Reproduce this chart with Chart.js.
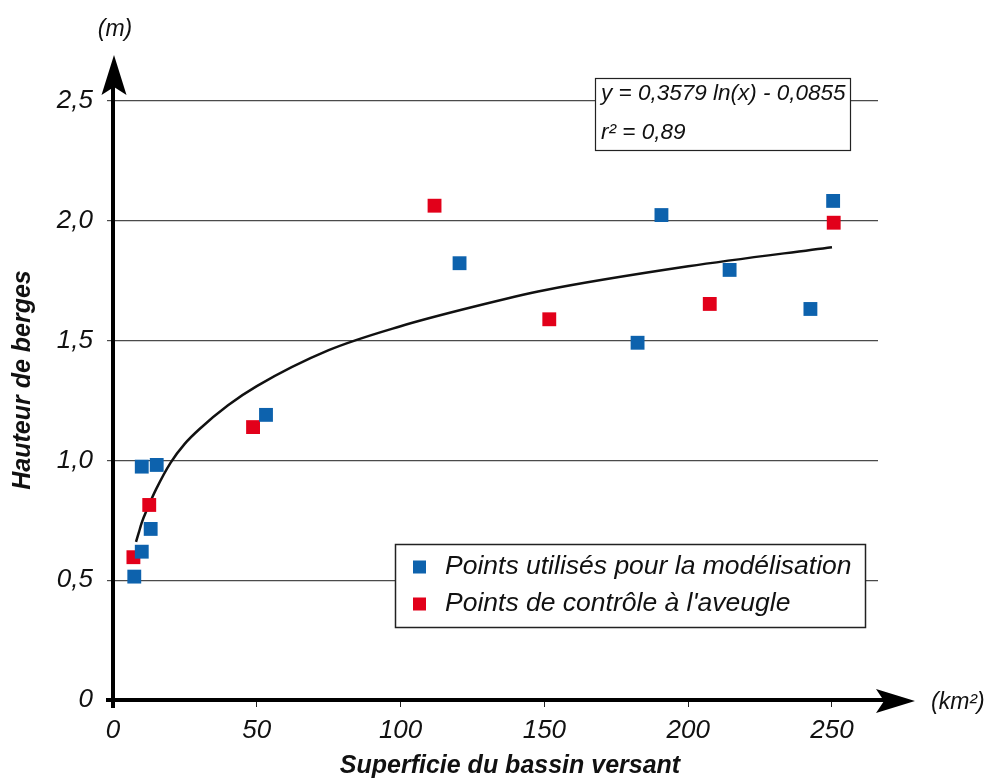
<!DOCTYPE html>
<html>
<head>
<meta charset="utf-8">
<script src="https://cdn.jsdelivr.net/npm/chart.js@4/dist/chart.umd.min.js"></script>
<style>
  html, body { margin: 0; padding: 0; background: #fff; }
  canvas { display: block; }
</style>
</head>
<body>
<canvas id="chart" width="988" height="783"></canvas>
<script>
// points used to build the model (blue)
const modelX = [7.4, 10.0, 13.1, 10.0, 15.2, 53.2, 120.5, 190.7, 182.4, 214.4, 242.5, 250.4];
const modelY = [0.515, 0.619, 0.714, 0.974, 0.981, 1.19, 1.823, 2.024, 1.491, 1.795, 1.632, 2.083];
// blind control points (red)
const controlX = [7.1, 12.6, 48.7, 111.8, 151.7, 207.5, 250.6];
const controlY = [0.596, 0.814, 1.139, 2.063, 1.589, 1.653, 1.992];
// fitted curve
const curveX = [8, 9, 10, 12, 15, 20, 25, 30, 40, 50, 75, 100, 125, 150, 200, 250];
const curveY = [0.66, 0.70, 0.74, 0.80, 0.88, 0.99, 1.07, 1.13, 1.23, 1.31, 1.46, 1.56, 1.64, 1.71, 1.81, 1.89];

const xTicks = [0, 50, 100, 150, 200, 250];
const yTicks = [0, 0.5, 1, 1.5, 2, 2.5];
const seriesLabels = ['Points utilisés pour la modélisation', "Points de contrôle à l'aveugle"];
const equationLines = ['y = 0,3579 ln(x) - 0,0855', 'r² = 0,89'];
const xTitle = 'Superficie du bassin versant';
const yTitle = 'Hauteur de berges';
const xUnit = '(km²)';
const yUnit = '(m)';

const FONT = "'Liberation Sans', Arial, Helvetica, sans-serif";
const BLUE = '#0d62ad';
const RED = '#e2001a';

const toPoints = (xs, ys) => xs.map((x, i) => ({ x: x, y: ys[i] }));

function arrowHead(ctx, tipX, tipY, dir) {
    // dir: 'up' or 'right'
    ctx.beginPath();
    if (dir === 'up') {
        ctx.moveTo(tipX, tipY);
        ctx.lineTo(tipX + 12.5, tipY + 40);
        ctx.lineTo(tipX, tipY + 32);
        ctx.lineTo(tipX - 12.5, tipY + 40);
    } else {
        ctx.moveTo(tipX, tipY);
        ctx.lineTo(tipX - 39, tipY - 12);
        ctx.lineTo(tipX - 31, tipY);
        ctx.lineTo(tipX - 39, tipY + 12);
    }
    ctx.closePath();
    ctx.fill();
}

const decorPlugin = {
    id: 'decor',
    beforeDatasetsDraw(chart) {
        const ctx = chart.ctx;
        ctx.save();
        // equation box
        ctx.fillStyle = '#fff';
        ctx.strokeStyle = '#222';
        ctx.lineWidth = 1.2;
        ctx.fillRect(595.5, 78.5, 255, 72);
        ctx.strokeRect(595.5, 78.5, 255, 72);
        ctx.fillStyle = '#111';
        ctx.font = 'italic 22.5px ' + FONT;
        ctx.textAlign = 'left';
        ctx.textBaseline = 'middle';
        ctx.fillText(equationLines[0], 601, 94);
        ctx.fillText(equationLines[1], 601, 133);

        // legend box
        ctx.fillStyle = '#fff';
        ctx.lineWidth = 1.5;
        ctx.fillRect(395.5, 544.5, 470, 83);
        ctx.strokeRect(395.5, 544.5, 470, 83);
        const colors = [BLUE, RED];
        const rows = [567, 604];
        ctx.font = 'italic 26.5px ' + FONT;
        seriesLabels.forEach((lab, i) => {
            ctx.fillStyle = colors[i];
            ctx.fillRect(413, rows[i] - 6.5, 13, 13);
            ctx.fillStyle = '#111';
            ctx.fillText(lab, 445, rows[i]);
        });
        ctx.restore();
    },
    afterDatasetsDraw(chart) {
        const ctx = chart.ctx;
        const xs = chart.scales.x, ys = chart.scales.y;
        const x0 = xs.getPixelForValue(0);
        const y0 = ys.getPixelForValue(0);
        ctx.save();
        ctx.strokeStyle = '#000';
        ctx.fillStyle = '#000';
        ctx.lineWidth = 4;
        ctx.beginPath();
        ctx.moveTo(x0, y0 + 8);
        ctx.lineTo(x0, 80);
        ctx.moveTo(x0 - 7, y0);
        ctx.lineTo(890, y0);
        ctx.stroke();
        arrowHead(ctx, x0 + 1, 55, 'up');
        arrowHead(ctx, 915, y0 + 1, 'right');

        // units
        ctx.fillStyle = '#111';
        ctx.font = 'italic 23px ' + FONT;
        ctx.textBaseline = 'middle';
        ctx.textAlign = 'center';
        ctx.fillText(yUnit, 115, 30);
        ctx.textAlign = 'left';
        ctx.fillText(xUnit, 931, 703);

        // axis titles
        ctx.font = 'italic bold 25px ' + FONT;
        ctx.textAlign = 'center';
        ctx.fillText(xTitle, 510, 766);
        ctx.translate(23, 380);
        ctx.rotate(-Math.PI / 2);
        ctx.fillText(yTitle, 0, 0);
        ctx.restore();
    }
};

new Chart(document.getElementById('chart'), {
    type: 'scatter',
    data: {
        datasets: [
            {
                label: seriesLabels[0],
                data: toPoints(modelX, modelY),
                pointStyle: 'rect',
                pointRadius: 9.8,
                pointBorderWidth: 0,
                backgroundColor: BLUE,
                borderColor: BLUE
            },
            {
                label: seriesLabels[1],
                data: toPoints(controlX, controlY),
                pointStyle: 'rect',
                pointRadius: 9.8,
                pointBorderWidth: 0,
                backgroundColor: RED,
                borderColor: RED
            },
            {
                label: 'Ajustement',
                data: toPoints(curveX, curveY),
                showLine: true,
                pointRadius: 0,
                borderColor: '#111',
                borderWidth: 2.5,
                cubicInterpolationMode: 'monotone'
            }
        ]
    },
    options: {
        responsive: false,
        animation: false,
        layout: { padding: { top: 101, right: 110, left: 0, bottom: 0 } },
        plugins: { legend: { display: false }, tooltip: { enabled: false } },
        scales: {
            x: {
                type: 'linear',
                min: 0,
                max: 266,
                afterBuildTicks: s => { s.ticks = xTicks.map(v => ({ value: v })); },
                afterFit: s => { s.height = 83; },
                ticks: {
                    font: { family: FONT, size: 26, style: 'italic' },
                    color: '#111',
                    padding: 8,
                    maxRotation: 0
                },
                grid: { drawOnChartArea: false, drawTicks: true, tickLength: 7, color: '#222', lineWidth: 1 },
                border: { display: false }
            },
            y: {
                min: 0,
                max: 2.5,
                afterBuildTicks: s => { s.ticks = yTicks.map(v => ({ value: v })); },
                afterFit: s => { s.width = 113; },
                ticks: {
                    font: { family: FONT, size: 26, style: 'italic' },
                    color: '#111',
                    padding: 14,
                    callback: v => v === 0 ? '0' : v.toFixed(1).replace('.', ',')
                },
                grid: { color: '#4a4a4a', lineWidth: 1.2, tickLength: 6 },
                border: { display: false }
            }
        }
    },
    plugins: [decorPlugin]
});
</script>
</body>
</html>
